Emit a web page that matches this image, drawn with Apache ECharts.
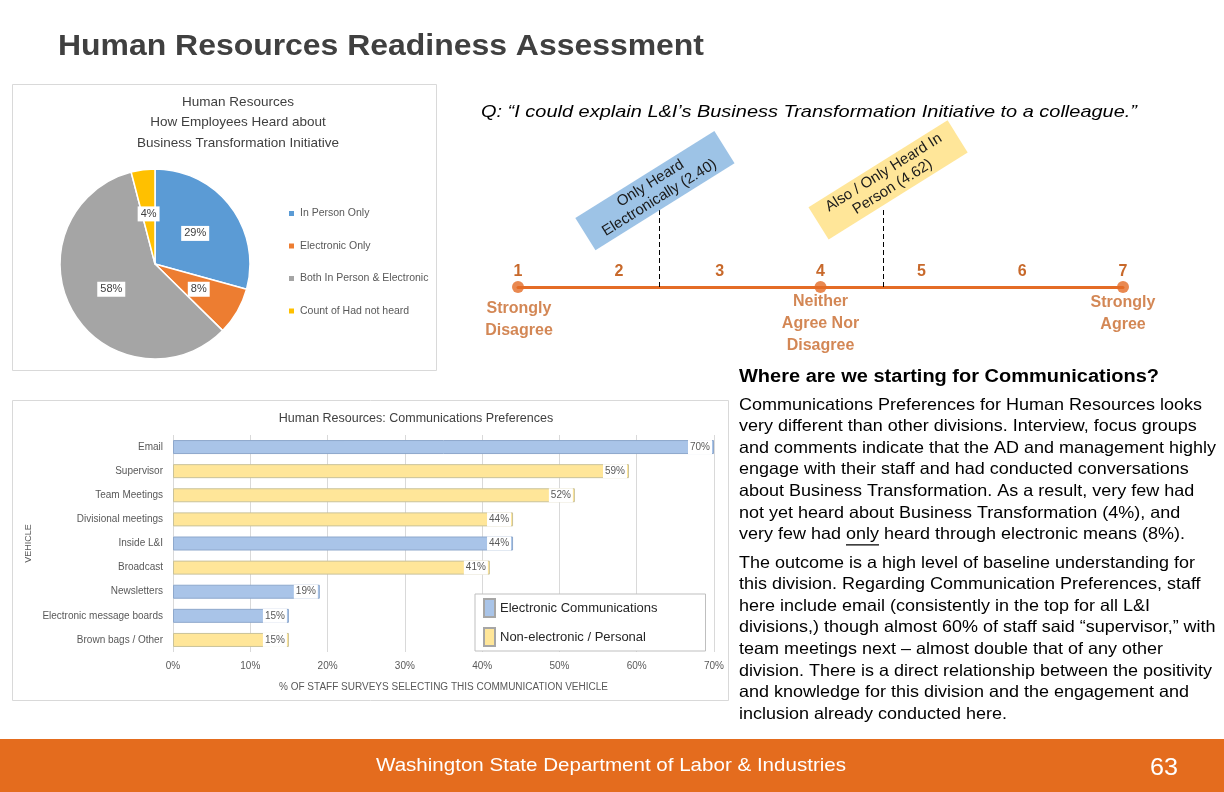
<!DOCTYPE html>
<html><head><meta charset="utf-8">
<script src="https://cdn.jsdelivr.net/npm/echarts@6/dist/echarts.min.js"></script>
<style>html,body{margin:0;padding:0;background:#fff}#c{width:1224px;height:792px}</style>
</head><body><div id="c"></div>
<script>
// ---------- DATA ----------
const pieTitle = 'Human Resources\nHow Employees Heard about\nBusiness Transformation Initiative';
const pieCategories = ['In Person Only', 'Electronic Only', 'Both In Person & Electronic', 'Count of Had not heard'];
const pieValues = [29, 8, 58, 4];

const barTitle = 'Human Resources: Communications Preferences';
const barCategories = ['Email', 'Supervisor', 'Team Meetings', 'Divisional meetings', 'Inside L&I', 'Broadcast', 'Newsletters', 'Electronic message boards', 'Brown bags / Other'];
const barValues = [70, 59, 52, 44, 44, 41, 19, 15, 15];
const barTypes = ['E', 'P', 'P', 'P', 'E', 'P', 'E', 'E', 'P'];
const barSeriesNames = ['Electronic Communications', 'Non-electronic / Personal'];
const barTicks = [0, 10, 20, 30, 40, 50, 60, 70];

const question = 'Q: \u201cI could explain L&I\u2019s Business Transformation Initiative to a colleague.\u201d';
const scaleTicks = [1, 2, 3, 4, 5, 6, 7];
const scaleAnchors = [1, 4, 7];
const scaleAnchorLabels = ['Strongly\nDisagree', 'Neither\nAgree Nor\nDisagree', 'Strongly\nAgree'];
const groupMeans = [2.40, 4.62];
const groupNames = ['Only Heard\nElectronically', 'Also / Only Heard In\nPerson'];

const pageTitle = 'Human Resources Readiness Assessment';
const heading = 'Where are we starting for Communications?';
const para1 = [
 'Communications Preferences for Human Resources looks',
 'very different than other divisions. Interview, focus groups',
 'and comments indicate that the AD and management highly',
 'engage with their staff and had conducted conversations',
 'about Business Transformation. As a result, very few had',
 'not yet heard about Business Transformation (4%), and',
 'very few had only heard through electronic means (8%).'
];
const para2 = [
 'The outcome is a high level of baseline understanding for',
 'this division. Regarding Communication Preferences, staff',
 'here include email (consistently in the top for all L&I',
 'divisions,) though almost 60% of staff said \u201csupervisor,\u201d with',
 'team meetings next \u2013 almost double that of any other',
 'division. There is a direct relationship between the positivity',
 'and knowledge for this division and the engagement and',
 'inclusion already conducted here.'
];
const footerText = 'Washington State Department of Labor & Industries';
const pageNumber = '63';

// ---------- HELPERS ----------
const FONT = 'Liberation Sans, Arial, sans-serif';
const mctx = document.createElement('canvas').getContext('2d');
function measure(text, font) { mctx.font = font; return mctx.measureText(text).width; }
function fit(text, font, target) { return target / measure(text, font); }

const ORANGE = '#E46C26';
const ORANGE_TXT = '#C8692B';
const pieColors = ['#5B9BD5', '#ED7D31', '#A5A5A5', '#FFC000'];
const elecColor = '#A9C4E8', persColor = '#FFE699';

// ---------- TEXT GRAPHICS ----------
const graphics = [];
graphics.push({ type: 'rect', shape: { x: 12.5, y: 84.5, width: 424, height: 286 }, style: { fill: 'none', stroke: '#D9D9D9', lineWidth: 1 }, z: -1 });
graphics.push({ type: 'rect', shape: { x: 12.5, y: 400.5, width: 716, height: 300 }, style: { fill: 'none', stroke: '#D9D9D9', lineWidth: 1 }, z: -1 });
graphics.push({ type: 'rect', shape: { x: 0, y: 739, width: 1224, height: 53 }, style: { fill: '#E46C1E' } });

function addText(text, x, y, font, target, fill, align, va) {
  const s = target ? fit(text, font, target) : 1;
  graphics.push({ type: 'text', x: x, y: y, scaleX: s, style: { text: text, font: font, fill: fill, align: align || 'left', verticalAlign: va || 'middle' } });
  return s;
}
addText(pageTitle, 58, 47, 'bold 29px ' + FONT, 646, '#404040');
addText(question, 481, 112, 'italic 17px ' + FONT, 656, '#000');
addText(heading, 739, 377, 'bold 18px ' + FONT, 420, '#000');
addText(footerText, 611, 766, '19px ' + FONT, 470, '#FFFFFF', 'center');
addText(pageNumber, 1164, 768, '24px ' + FONT, 28, '#FFFFFF', 'center');

const pFont = '16.5px ' + FONT;
const pScale = fit(para1[2], pFont, 477);
function addPara(lines, firstCenter, lh) {
  lines.forEach((t, i) => {
    graphics.push({ type: 'text', x: 739, y: firstCenter + i * lh, scaleX: pScale, style: { text: t, font: pFont, fill: '#000', verticalAlign: 'middle' } });
  });
}
addPara(para1, 405, 21.65);
addPara(para2, 563, 21.6);
(function () {
  const pre = measure('very few had ', pFont) * pScale;
  const w = measure('only', pFont) * pScale;
  const y = 405 + 6 * 21.65 + 10;
  graphics.push({ type: 'line', shape: { x1: 739 + pre, y1: y, x2: 739 + pre + w, y2: y }, style: { stroke: '#000', lineWidth: 1.2 } });
})();

// ---------- CHART ----------
const chart = echarts.init(document.getElementById('c'), null, { renderer: 'canvas' });

const elecData = barValues.map((v, i) => barTypes[i] === 'E' ? v : '-');
const persData = barValues.map((v, i) => barTypes[i] === 'P' ? v : '-');
const barLabel = {
  show: true, position: 'insideRight', distance: 2, formatter: '{c}%',
  backgroundColor: '#fff', padding: [2, 2, 2, 2], color: '#595959', fontSize: 10, fontFamily: FONT
};

const option = {
  animation: false,
  backgroundColor: '#fff',
  title: [
    { text: pieTitle, left: 233, top: 87, textAlign: 'center',
      textStyle: { fontSize: 13.5, fontWeight: 'normal', color: '#404040', fontFamily: FONT, lineHeight: 20.5 } },
    { text: barTitle, left: 411, top: 407, textAlign: 'center',
      textStyle: { fontSize: 12.5, fontWeight: 'normal', color: '#404040', fontFamily: FONT } }
  ],
  legend: [
    { data: pieCategories, orient: 'vertical', left: 282, top: 203, itemWidth: 7, itemHeight: 7, itemGap: 21.5,
      icon: 'rect', textStyle: { fontSize: 10.5, color: '#595959', fontFamily: FONT } },
    { data: barSeriesNames, orient: 'vertical', left: 475, top: 594, itemWidth: 11, itemHeight: 18, itemGap: 9,
      icon: 'rect', padding: [4, 48, 4, 8], backgroundColor: '#fff', borderColor: '#BFBFBF', borderWidth: 1,
      itemStyle: { borderColor: '#A6A6A6', borderWidth: 2 },
      textStyle: { fontSize: 13, color: '#262626', fontFamily: FONT } }
  ],
  grid: [
    { left: 173, right: 510, top: 435, bottom: 140 },
    { left: 518, right: 101, top: 120, bottom: 505 }
  ],
  xAxis: [
    { gridIndex: 0, type: 'value', min: 0, max: 70, interval: 10,
      name: '% OF STAFF SURVEYS SELECTING THIS COMMUNICATION VEHICLE', nameLocation: 'middle', nameGap: 30,
      nameTextStyle: { fontSize: 10, color: '#595959', fontFamily: FONT },
      axisLine: { show: false }, axisTick: { show: false },
      axisLabel: { formatter: '{value}%', fontSize: 10, color: '#595959', fontFamily: FONT, margin: 9 },
      splitLine: { show: true, lineStyle: { color: '#D9D9D9', width: 1 } } },
    { gridIndex: 1, type: 'value', min: 1, max: 7, interval: 1,
      axisLine: { show: true, lineStyle: { color: ORANGE, width: 3 } },
      axisTick: { show: false }, splitLine: { show: false },
      axisLabel: { inside: true, margin: 7, fontSize: 16, fontWeight: 'bold', color: ORANGE_TXT, fontFamily: FONT,
        formatter: v => scaleTicks.indexOf(v) >= 0 ? String(v) : '' } }
  ],
  yAxis: [
    { gridIndex: 0, type: 'category', data: barCategories, inverse: true,
      name: 'VEHICLE', nameLocation: 'middle', nameGap: 140, nameRotate: 90,
      nameTextStyle: { fontSize: 9, color: '#595959', fontFamily: FONT },
      axisLine: { show: false }, axisTick: { show: false },
      axisLabel: { fontSize: 10, color: '#595959', fontFamily: FONT, margin: 10 } },
    { gridIndex: 1, type: 'value', min: 0, max: 167, show: false }
  ],
  series: [
    { type: 'pie', center: [155, 264], radius: 95, startAngle: 90, clockwise: true,
      data: pieCategories.map((n, i) => ({ name: n, value: pieValues[i], itemStyle: { color: pieColors[i] } })),
      itemStyle: { borderColor: '#fff', borderWidth: 1.5 },
      label: { show: true, position: 'inside', formatter: p => p.value + '%', backgroundColor: '#fff',
        padding: [2, 3], color: '#404040', fontSize: 11, fontFamily: FONT },
      labelLine: { show: false } },
    { type: 'bar', name: barSeriesNames[0], xAxisIndex: 0, yAxisIndex: 0, data: elecData, barWidth: 14, barGap: '-100%',
      itemStyle: { color: elecColor, borderColor: '#8EA8CC', borderWidth: 1 }, label: barLabel },
    { type: 'bar', name: barSeriesNames[1], xAxisIndex: 0, yAxisIndex: 0, data: persData, barWidth: 14, barGap: '-100%',
      itemStyle: { color: persColor, borderColor: '#C9C29A', borderWidth: 1 }, label: barLabel },
    { type: 'scatter', xAxisIndex: 1, yAxisIndex: 1, symbolSize: 12, itemStyle: { color: ORANGE },
      data: scaleAnchors.map((v, i) => ({ value: [v, 0], name: scaleAnchorLabels[i],
        label: { offset: [[1, 5], [0, -2], [0, -1]][i] } })),
      label: { show: true, position: 'bottom', distance: 0, formatter: p => p.name,
        color: ORANGE_TXT, fontSize: 16, fontWeight: 'bold', lineHeight: 22, align: 'center', fontFamily: FONT },
      markLine: { silent: true, symbol: ['none', 'none'], label: { show: false },
        lineStyle: { type: [5, 3], color: '#000', width: 1 },
        data: groupMeans.map(v => [{ coord: [v, 0] }, { coord: [v, 78] }]) },
      markPoint: { silent: true, symbol: 'rect', symbolSize: 1, itemStyle: { color: 'rgba(0,0,0,0)' },
        data: groupMeans.map((v, i) => ({ coord: [v, [99, 104][i]],
          label: { show: true, position: 'inside', rotate: 32, offset: [[-5, 0], [6, 0]][i],
            formatter: groupNames[i] + ' (' + v.toFixed(2) + ')',
            backgroundColor: ['#9DC3E6', '#FFE699'][i], padding: [2, 12], width: 140, align: 'center',
            lineHeight: 17, fontSize: 15, color: '#1a1a1a', fontFamily: FONT } })) } }
  ],
  graphic: graphics
};
chart.setOption(option);
</script></body></html>
